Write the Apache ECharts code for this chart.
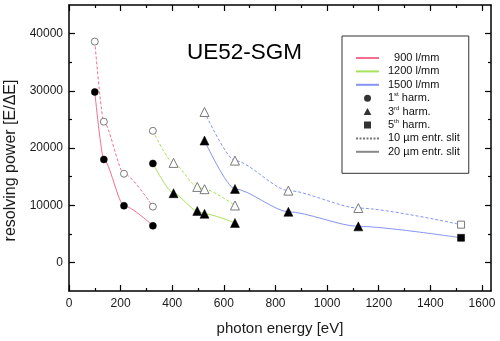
<!DOCTYPE html>
<html><head><meta charset="utf-8">
<script src="https://cdn.jsdelivr.net/npm/echarts@6/dist/echarts.min.js"></script>
<style>html,body{margin:0;padding:0;background:#fff}#c{width:500px;height:341px}</style>
</head><body><div id="c"></div>
<script>
// ---- data ----
const energy900 = [100, 135, 213, 325];
const rp900_20 = [29800, 18000, 9900, 6400];
const rp900_10 = [38600, 24600, 15500, 9750];
const harm900 = [1, 1, 1, 1];

const energy1200 = [325, 405, 497, 525, 643];
const rp1200_20 = [17300, 12100, 9000, 8500, 6900];
const rp1200_10 = [23000, 17400, 13200, 12800, 9950];
const harm1200 = [1, 3, 3, 3, 3];

const energy1500 = [525, 643, 850, 1121, 1519];
const rp1500_20 = [21300, 12850, 8850, 6300, 4300];
const rp1500_10 = [26300, 17800, 12550, 9500, 6600];
const harm1500 = [3, 3, 3, 3, 5];

const xMajor = [0, 200, 400, 600, 800, 1000, 1200, 1400, 1600];
const xMinor = [100, 300, 500, 700, 900, 1100, 1300, 1500];
const yMajor = [0, 10000, 20000, 30000, 40000];
const yMinor = [5000, 15000, 25000, 35000];

const legendNames = ['900 l/mm', '1200 l/mm', '1500 l/mm', '1st harm.', '3rd harm.', '5th harm.', '10 µm entr. slit', '20 µm entr. slit'];
const titleText = 'UE52-SGM';

// ---- styles ----
const RED = '#f2708c', GREEN = '#a6e25a', BLUE = '#8494f2';
const FONT = 'Liberation Sans, Arial, sans-serif';
const symOf = {1: 'circle', 3: 'triangle', 5: 'rect'};
const sizeOf = {1: 7, 3: 9, 5: 7};
const TRI = 'path://M5,0 L10,9 L0,9 Z';
const SQ = 'path://M0,0 H1 V1 H0 Z';

function pts(xs, ys, hs, filled) {
  return xs.map((x, i) => ({
    value: [x, ys[i]],
    symbol: symOf[hs[i]],
    symbolSize: sizeOf[hs[i]],
    itemStyle: filled ? {color: '#000', borderColor: '#000', borderWidth: 0.5}
                      : {color: '#fff', borderColor: '#7a7a7a', borderWidth: 1}
  }));
}
function dataSeries(name, xs, ys, hs, color, dashed) {
  return {
    type: 'line', name: name, xAxisIndex: 0, yAxisIndex: 0,
    data: pts(xs, ys, hs, !dashed),
    smooth: 0.25, smoothMonotone: 'x',
    lineStyle: {color: color, width: 1, type: dashed ? [3, 2] : 'solid'},
    itemStyle: {color: color},
    z: 3, silent: true
  };
}

const lineCommon = {show: true, onZero: false, lineStyle: {color: '#000', width: 1.5}};
const noLine = {show: false, onZero: false};
const numFmt = v => String(v);
function xAx(pos, vals, len, labels, extra) {
  return Object.assign({
    type: 'value', min: 0, max: 1635, position: pos, gridIndex: 0,
    axisLine: labels !== null ? lineCommon : noLine,
    axisTick: {show: true, inside: true, length: len, customValues: vals, lineStyle: {color: '#000', width: 1.2}},
    axisLabel: labels ? {show: true, customValues: vals, formatter: numFmt, margin: 7, color: '#1a1a1a', fontSize: 12, fontFamily: FONT} : {show: false},
    splitLine: {show: false}
  }, extra || {});
}
function yAx(pos, vals, len, labels, extra) {
  return Object.assign({
    type: 'value', min: -5000, max: 45000, position: pos, gridIndex: 0,
    axisLine: labels !== null ? lineCommon : noLine,
    axisTick: {show: true, inside: true, length: len, customValues: vals, lineStyle: {color: '#000', width: 1.2}},
    axisLabel: labels ? {show: true, customValues: vals, formatter: numFmt, margin: 6, color: '#1a1a1a', fontSize: 12, fontFamily: FONT} : {show: false},
    splitLine: {show: false}
  }, extra || {});
}

const hide = {opacity: 0};
const option = {
  animation: false,
  backgroundColor: '#fff',
  title: {text: titleText, left: 182, top: 36.5, textStyle: {fontFamily: FONT, fontSize: 22.5, fontWeight: 'normal', color: '#000'}},
  grid: {left: 69, right: 9, top: 5, bottom: 50, containLabel: false, outerBoundsMode: 'none'},
  xAxis: [
    xAx('bottom', xMajor, 6, true, {name: 'photon energy [eV]', nameLocation: 'middle', nameGap: 30,
      nameTextStyle: {fontFamily: FONT, fontSize: 15, color: '#1a1a1a'}}),
    xAx('bottom', xMinor, 3, null),
    xAx('top', xMajor, 6, false),
    xAx('top', xMinor, 3, null)
  ],
  yAxis: [
    yAx('left', yMajor, 6, true, {name: 'resolving power [E/ΔE]', nameLocation: 'middle', nameGap: 40,
      nameTextStyle: {fontFamily: FONT, fontSize: 16, color: '#1a1a1a', padding: [0, 25, 0, 0]}}),
    yAx('left', yMinor, 3, null),
    yAx('right', yMajor, 6, false),
    yAx('right', yMinor, 3, null)
  ],
  legend: {
    orient: 'vertical', left: 342, top: 36,
    padding: [15.5, 9, 15, 13],
    borderColor: '#333', borderWidth: 1, backgroundColor: '#fff',
    itemWidth: 23, itemHeight: 7, itemGap: 0.4,
    selectedMode: false,
    data: [
      {name: legendNames[0], itemStyle: hide},
      {name: legendNames[1], itemStyle: hide},
      {name: legendNames[2], itemStyle: hide},
      {name: legendNames[3], icon: 'circle'},
      {name: legendNames[4], icon: TRI},
      {name: legendNames[5], icon: SQ},
      {name: legendNames[6], itemStyle: hide},
      {name: legendNames[7], itemStyle: hide}
    ],
    formatter: function (n) {
      const m = n.match(/^(\d)(st|rd|th)( .*)$/);
      if (m) return m[1] + '{sup|' + m[2] + '}' + m[3];
      if (n === '900 l/mm') return '  ' + n;
      return n;
    },
    textStyle: {fontFamily: FONT, fontSize: 11, color: '#111', lineHeight: 13, padding: [0, 0, 0, 4],
      rich: {sup: {fontSize: 6, fontFamily: FONT, color: '#111', verticalAlign: 'top', lineHeight: 8}}}
  },
  series: [
    dataSeries('d900_10', energy900, rp900_10, harm900, RED, true),
    dataSeries('d900_20', energy900, rp900_20, harm900, RED, false),
    dataSeries('d1200_10', energy1200, rp1200_10, harm1200, GREEN, true),
    dataSeries('d1200_20', energy1200, rp1200_20, harm1200, GREEN, false),
    dataSeries('d1500_10', energy1500, rp1500_10, harm1500, BLUE, true),
    dataSeries('d1500_20', energy1500, rp1500_20, harm1500, BLUE, false),
    // legend-only entries
    {type: 'line', name: legendNames[0], data: [], symbol: 'none', lineStyle: {color: RED, width: 1.5}, itemStyle: {color: RED}},
    {type: 'line', name: legendNames[1], data: [], symbol: 'none', lineStyle: {color: GREEN, width: 1.5}, itemStyle: {color: GREEN}},
    {type: 'line', name: legendNames[2], data: [], symbol: 'none', lineStyle: {color: BLUE, width: 1.5}, itemStyle: {color: BLUE}},
    {type: 'scatter', name: legendNames[3], data: [], symbol: 'circle', itemStyle: {color: '#000'}},
    {type: 'scatter', name: legendNames[4], data: [], symbol: 'triangle', itemStyle: {color: '#000'}},
    {type: 'scatter', name: legendNames[5], data: [], symbol: 'rect', itemStyle: {color: '#000'}},
    {type: 'line', name: legendNames[6], data: [], symbol: 'none', lineStyle: {color: '#777', width: 1.2, type: [2, 1.5]}, itemStyle: {color: '#777'}},
    {type: 'line', name: legendNames[7], data: [], symbol: 'none', lineStyle: {color: '#888', width: 2}, itemStyle: {color: '#888'}}
  ]
};
const chart = echarts.init(document.getElementById('c'), null, {renderer: 'canvas'});
chart.setOption(option);
</script></body></html>
